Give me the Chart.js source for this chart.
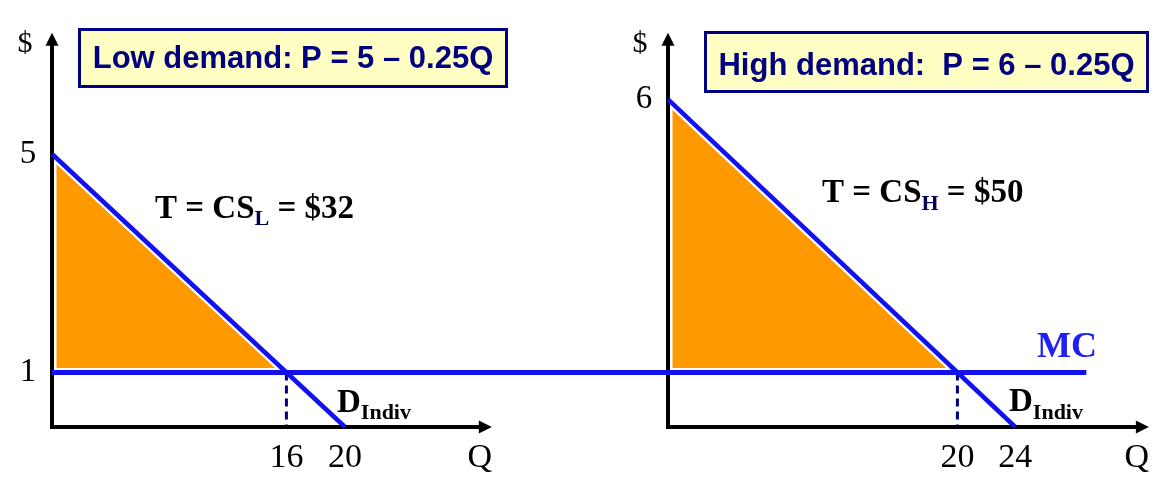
<!DOCTYPE html>
<html>
<head>
<meta charset="utf-8">
<script src="https://cdn.jsdelivr.net/npm/chart.js@4.4.1/dist/chart.umd.min.js"></script>
<style>
html, body { margin: 0; padding: 0; background: #ffffff; }
#wrap { width: 1164px; height: 492px; }
</style>
</head>
<body>
<div id="wrap"><canvas id="chart" width="1164" height="492"></canvas></div>
<script>
// demand curves (Q, P)
const lowDemandQ = [0, 20];
const lowDemandP = [5, 0];
const highDemandQ = [0, 24];
const highDemandP = [6, 0];

// consumer surplus triangles above MC
const lowSurplusQ = [0, 16, 0, 0];
const lowSurplusP = [5, 1, 1, 5];
const highSurplusQ = [0, 20, 0, 0];
const highSurplusP = [6, 1, 1, 6];

// marginal cost, runs across both panels (left panel Q units)
const mcQ = [0, 70.6];
const mcP = [1, 1];

// quantity where D meets MC
const lowEqQ = 16;
const highEqQ = 20;

// axis ends
const priceTop = 7;
const lowQEnd = 29.2;
const highQEnd = 32.4;

// tick labels
const lowQTicks = [16, 20];
const highQTicks = [20, 24];
const lowPTicks = [1, 5];
const highPTicks = [6];

const lowTitle = "Low demand: P = 5 \u2013 0.25Q";
const highTitle = "High demand:  P = 6 \u2013 0.25Q";

const BLUE = "#1212ee";
const NAVY = "#000080";
const ORANGE = "#ff9900";
const SERIF = "'Liberation Serif', 'Times New Roman', serif";
const SANS = "'Liberation Sans', Arial, sans-serif";

function pts(qs, ps) {
const out = [];
for (let i = 0; i < qs.length; i++) {
out.push({ x: qs[i], y: ps[i] });
}
return out;
}

function arrowUp(ctx, x, yBase) {
ctx.beginPath();
ctx.moveTo(x, yBase - 12);
ctx.lineTo(x - 6.5, yBase + 1);
ctx.lineTo(x + 6.5, yBase + 1);
ctx.closePath();
ctx.fill();
}

function arrowRight(ctx, xBase, y) {
ctx.beginPath();
ctx.moveTo(xBase + 12, y);
ctx.lineTo(xBase - 1, y - 6.5);
ctx.lineTo(xBase - 1, y + 6.5);
ctx.closePath();
ctx.fill();
}

function subText(ctx, x, base, main, sub, rest, mainFont, subFont, drop, subColor) {
ctx.textAlign = "left";
ctx.textBaseline = "alphabetic";
ctx.font = mainFont;
ctx.fillText(main, x, base);
let cx = x + ctx.measureText(main).width;
ctx.font = subFont;
const prev = ctx.fillStyle;
if (subColor) {
ctx.fillStyle = subColor;
}
ctx.fillText(sub, cx, base + drop);
ctx.fillStyle = prev;
cx += ctx.measureText(sub).width;
if (rest) {
ctx.font = mainFont;
ctx.fillText(rest, cx, base);
}
}

function box(ctx, x, y, w, h, text, base) {
ctx.fillStyle = "#ffffc4";
ctx.fillRect(x, y, w, h);
ctx.strokeStyle = NAVY;
ctx.lineWidth = 3;
ctx.strokeRect(x + 1.5, y + 1.5, w - 3, h - 3);
ctx.fillStyle = NAVY;
ctx.font = "bold 31px " + SANS;
ctx.textAlign = "center";
ctx.textBaseline = "alphabetic";
ctx.fillText(text, x + w / 2, base);
}

const overlay = {
id: "overlay",
afterDatasetsDraw(chart) {
const ctx = chart.ctx;
const y = chart.scales.y;
const xL = chart.scales.xL;
const xR = chart.scales.xR;
const y0 = y.getPixelForValue(0);
const yTop = y.getPixelForValue(priceTop);
ctx.save();
ctx.fillStyle = "#000000";
arrowUp(ctx, xL.getPixelForValue(0), yTop);
arrowUp(ctx, xR.getPixelForValue(0), yTop);
arrowRight(ctx, xL.getPixelForValue(lowQEnd), y0);
arrowRight(ctx, xR.getPixelForValue(highQEnd), y0);

// axis names and ticks
ctx.font = "30px " + SERIF;
ctx.textAlign = "center";
ctx.textBaseline = "middle";
ctx.fillText("$", xL.getPixelForValue(0) - 27, yTop - 1);
ctx.fillText("$", xR.getPixelForValue(0) - 28, yTop - 1);
ctx.font = "33px " + SERIF;
lowPTicks.forEach(p => {
ctx.fillText(String(p), xL.getPixelForValue(0) - 24, y.getPixelForValue(p));
});
highPTicks.forEach(p => {
ctx.fillText(String(p), xR.getPixelForValue(0) - 24, y.getPixelForValue(p));
});
ctx.font = "34px " + SERIF;
lowQTicks.forEach(q => {
ctx.fillText(String(q), xL.getPixelForValue(q), y0 + 31);
});
highQTicks.forEach(q => {
ctx.fillText(String(q), xR.getPixelForValue(q), y0 + 31);
});
ctx.fillText("Q", xL.getPixelForValue(lowQEnd), y0 + 31);
ctx.fillText("Q", xR.getPixelForValue(highQEnd), y0 + 31);

// boxes
box(ctx, 78, 28, 430, 60, lowTitle, 68);
box(ctx, 704, 31, 445, 62, highTitle, 75);

// surplus labels
ctx.fillStyle = "#000000";
subText(ctx, 155, 218, "T = CS", "L", " = $32", "bold 33px " + SERIF, "bold 22px " + SERIF, 7, "#000050");
subText(ctx, 822, 202, "T = CS", "H", " = $50", "bold 33px " + SERIF, "bold 22px " + SERIF, 8, "#000050");

// demand labels
subText(ctx, 337, 412, "D", "Indiv", "", "bold 33px " + SERIF, "bold 22px " + SERIF, 7);
subText(ctx, 1009, 411, "D", "Indiv", "", "bold 33px " + SERIF, "bold 22px " + SERIF, 8);

// MC label
ctx.fillStyle = "#2020f0";
ctx.font = "bold 36px " + SERIF;
ctx.textAlign = "left";
ctx.fillText("MC", 1037, 357);
ctx.restore();
}
};

new Chart(document.getElementById("chart"), {
type: "line",
data: {
datasets: [
{
data: pts(lowSurplusQ, lowSurplusP),
xAxisID: "xL",
fill: "shape",
backgroundColor: ORANGE,
borderColor: "#ffffff",
borderWidth: 9,
borderJoinStyle: "round",
order: 6
},
{
data: pts(highSurplusQ, highSurplusP),
xAxisID: "xR",
fill: "shape",
backgroundColor: ORANGE,
borderColor: "#ffffff",
borderWidth: 9,
borderJoinStyle: "round",
order: 6
},
{
data: pts([lowEqQ, lowEqQ], [mcP[0], 0]),
xAxisID: "xL",
borderColor: NAVY,
borderWidth: 3,
borderDash: [8, 5],
order: 5
},
{
data: pts([highEqQ, highEqQ], [mcP[0], 0]),
xAxisID: "xR",
borderColor: NAVY,
borderWidth: 3,
borderDash: [8, 5],
order: 5
},
{
data: pts([0, 0, lowQEnd], [priceTop, 0, 0]),
xAxisID: "xL",
borderColor: "#000000",
borderWidth: 4,
borderJoinStyle: "miter",
order: 4
},
{
data: pts([0, 0, highQEnd], [priceTop, 0, 0]),
xAxisID: "xR",
borderColor: "#000000",
borderWidth: 4,
borderJoinStyle: "miter",
order: 4
},
{
data: pts(lowDemandQ, lowDemandP),
xAxisID: "xL",
borderColor: BLUE,
borderWidth: 4.5,
order: 3
},
{
data: pts(highDemandQ, highDemandP),
xAxisID: "xR",
borderColor: BLUE,
borderWidth: 4.5,
order: 3
},
{
data: pts(mcQ, mcP),
xAxisID: "xL",
borderColor: BLUE,
borderWidth: 5,
order: 2
}
]
},
options: {
responsive: false,
animation: false,
events: [],
layout: {
padding: { left: 52, right: 16, top: 33, bottom: 65 }
},
elements: {
point: { radius: 0 },
line: { tension: 0, fill: false }
},
datasets: {
line: { clip: false }
},
plugins: {
legend: { display: false },
tooltip: { enabled: false }
},
scales: {
xL: { type: "linear", display: false, min: 0, max: 74.81 },
xR: { type: "linear", display: false, min: -42.57, max: 33.17 },
y: { type: "linear", display: false, min: 0, max: 7.216 }
}
},
plugins: [overlay]
});
</script>
</body>
</html>
